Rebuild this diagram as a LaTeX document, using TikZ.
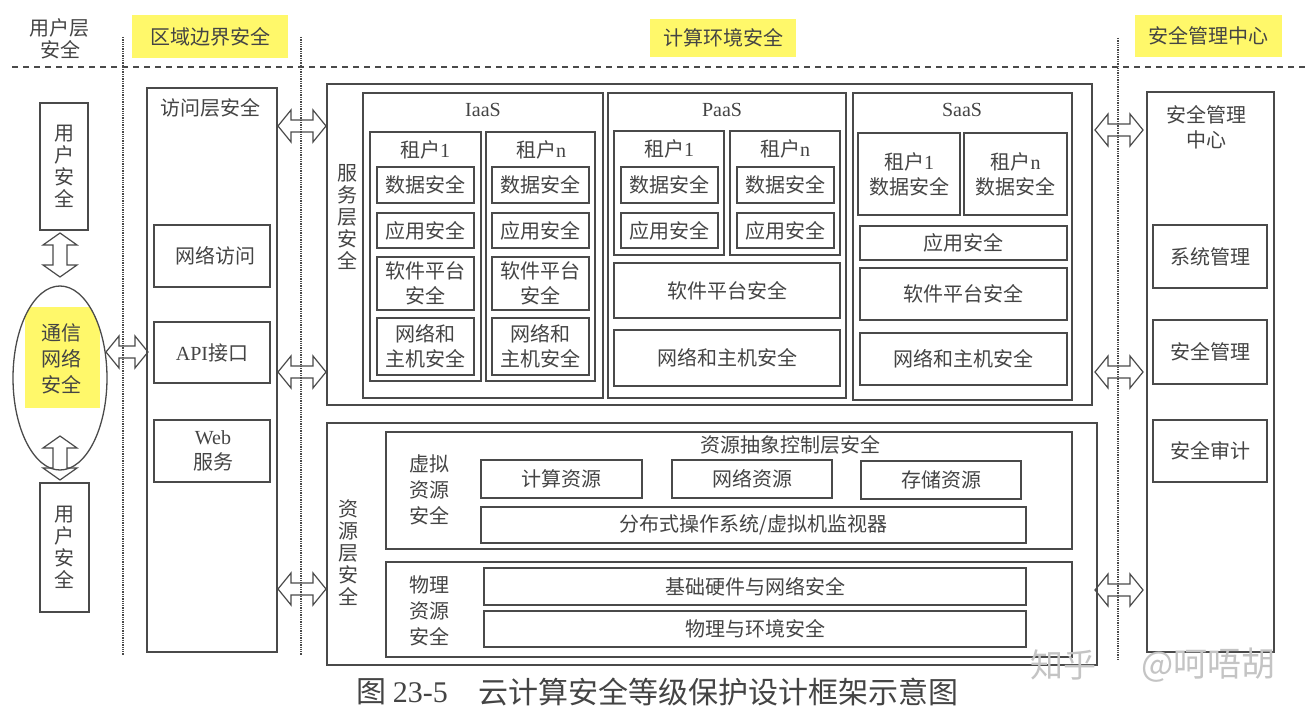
\documentclass[tikz,border=0pt]{standalone}
\usepackage{fontspec}
\setmainfont{Noto Sans CJK SC}
\newfontfamily\lat{Liberation Serif}
\usetikzlibrary{shapes.geometric}
\definecolor{ink}{HTML}{444444}
\definecolor{ln}{HTML}{4A4A4A}
\definecolor{hl}{HTML}{FFF86A}
\definecolor{wm}{HTML}{C4C4C4}
\tikzset{
  box/.style={draw=ln, line width=1.3pt, inner sep=0pt, align=center, text=ink, font=\fontsize{20}{25}\selectfont},
  txt/.style={inner sep=0pt, align=center, text=ink, font=\fontsize{20}{25}\selectfont},
  vtxt/.style={inner sep=0pt, align=center, text=ink, font=\fontsize{20}{22}\selectfont},
  hlbox/.style={fill=hl, inner sep=0pt, text=ink, font=\fontsize{20}{25}\selectfont},
  arr/.style={draw=ln, line width=1.2pt, line join=miter},
  vsep/.style={draw=ln, line width=1.3pt, densely dotted},
  hsep/.style={draw=ln, line width=1.3pt, dash pattern=on 6pt off 5pt},
}
\newcommand\bx[6]{\node[box, minimum width={(#4-#2)*1pt}, minimum height={(#5-#3)*1pt}] (#1) at ({(#2+#4)/2},{(#3+#5)/2}) {#6};}
\newcommand\harr[3]{\draw[arr] (#1,#3) -- ({#1+13},{#3-16}) -- ({#1+13},{#3-6}) -- ({#2-13},{#3-6}) -- ({#2-13},{#3-16}) -- (#2,#3) -- ({#2-13},{#3+16}) -- ({#2-13},{#3+6}) -- ({#1+13},{#3+6}) -- ({#1+13},{#3+16}) -- cycle;}
\newcommand\varr[3]{\draw[arr] (#1,#2) -- ({#1-17},{#2+12}) -- ({#1-7},{#2+12}) -- ({#1-7},{#3-12}) -- ({#1-17},{#3-12}) -- (#1,#3) -- ({#1+17},{#3-12}) -- ({#1+7},{#3-12}) -- ({#1+7},{#2+12}) -- ({#1+17},{#2+12}) -- cycle;}
\begin{document}
\begin{tikzpicture}[x=1pt,y=-1pt]
\useasboundingbox[fill=white] (0,0) rectangle (1310,722);

% headers
\node[txt, font=\fontsize{20}{22}\selectfont] (hu) at (60,39) {用户层\\安全};
\node[hlbox, minimum width=156pt, minimum height=43pt] (hz) at (210,37) {区域边界安全};
\node[hlbox, minimum width=146pt, minimum height=38pt] (hc) at (723,38) {计算环境安全};
\node[hlbox, minimum width=147pt, minimum height=42pt] (hm) at (1208,36) {安全管理中心};

\coordinate (hl1) at (12,67); \coordinate (hl2) at (1305,67);
\draw[hsep] (hl1) -- (hl2);
\coordinate (v1a) at (123,37); \coordinate (v1b) at (123,655);
\coordinate (v2a) at (301,37); \coordinate (v2b) at (301,655);
\coordinate (v3a) at (1118,38); \coordinate (v3b) at (1118,660);
\draw[vsep] (v1a) -- (v1b);
\draw[vsep] (v2a) -- (v2b);
\draw[vsep] (v3a) -- (v3b);

% user layer
\bx{u1}{40}{103}{88}{230}{}
\node[vtxt] at (u1) {用\\户\\安\\全};
\bx{u2}{40}{483}{89}{612}{}
\node[vtxt] at (u2) {用\\户\\安\\全};
\begin{scope}
\clip (60,378) ellipse [x radius=47, y radius=92];
\fill[hl] (25,307) rectangle (100,408);
\end{scope}
\node[draw=ln, line width=1.3pt, ellipse, minimum width=94pt, minimum height=184pt] (comm) at (60,378) {};
\node[txt, font=\fontsize{20}{26}\selectfont] at (61,359) {通信\\网络\\安全};
\varr{60}{233}{277}
\varr{60}{436}{480}

% access layer
\bx{acc}{147}{88}{277}{652}{}
\node[txt] at (210,108) {访问层安全};
\bx{na}{154}{225}{270}{287}{\hspace*{6pt}网络访问}
\bx{api}{154}{322}{270}{383}{{\lat API}接口}
\bx{web}{154}{420}{270}{482}{}
\node[txt] at (213,451) {{\lat Web}\\服务};
\harr{106}{148}{352}
\harr{278}{326}{126}
\harr{278}{326}{372}
\harr{278}{326}{589}

% service layer
\bx{svc}{327}{84}{1092}{405}{}
\node[vtxt] at (347,217) {服\\务\\层\\安\\全};
% IaaS
\bx{iaas}{363}{93}{603}{398}{}
\node[txt] at (483,110) {{\lat IaaS}};
\bx{it1}{370}{132}{481}{381}{}
\node[txt] at (425,150) {租户{\lat 1}};
\bx{it1d}{377}{167}{474}{203}{数据安全}
\bx{it1a}{377}{213}{474}{248}{应用安全}
\bx{it1s}{377}{257}{474}{310}{软件平台\\安全}
\bx{it1n}{377}{318}{474}{375}{网络和\\主机安全}
\bx{itn}{486}{132}{595}{381}{}
\node[txt] at (541,150) {租户{\lat n}};
\bx{itnd}{492}{167}{589}{203}{数据安全}
\bx{itna}{492}{213}{589}{248}{应用安全}
\bx{itns}{492}{257}{589}{310}{软件平台\\安全}
\bx{itnn}{492}{318}{589}{375}{网络和\\主机安全}
% PaaS
\bx{paas}{608}{93}{846}{398}{}
\node[txt] at (722,110) {{\lat PaaS}};
\bx{pt1}{614}{131}{724}{255}{}
\node[txt] at (669,149) {租户{\lat 1}};
\bx{pt1d}{621}{167}{718}{203}{数据安全}
\bx{pt1a}{621}{213}{718}{248}{应用安全}
\bx{ptn}{730}{131}{840}{255}{}
\node[txt] at (785,149) {租户{\lat n}};
\bx{ptnd}{737}{167}{834}{203}{数据安全}
\bx{ptna}{737}{213}{834}{248}{应用安全}
\bx{ps}{614}{263}{840}{318}{软件平台安全}
\bx{pn}{614}{330}{840}{386}{网络和主机安全}
% SaaS
\bx{saas}{853}{93}{1072}{400}{}
\node[txt] at (962,110) {{\lat SaaS}};
\bx{st1}{858}{133}{960}{215}{租户{\lat 1}\\数据安全}
\bx{stn}{964}{133}{1067}{215}{租户{\lat n}\\数据安全}
\bx{sa}{860}{226}{1067}{260}{应用安全}
\bx{ss}{860}{268}{1067}{320}{软件平台安全}
\bx{sn}{860}{333}{1067}{385}{网络和主机安全}

% resource layer
\bx{res}{327}{423}{1097}{665}{}
\node[vtxt] at (348,553) {资\\源\\层\\安\\全};
\bx{vir}{386}{432}{1072}{549}{}
\node[txt] at (790,445) {资源抽象控制层安全};
\node[txt, font=\fontsize{20}{26}\selectfont] at (429,490) {虚拟\\资源\\安全};
\bx{cr}{481}{460}{642}{498}{计算资源}
\bx{nr}{672}{460}{832}{498}{网络资源}
\bx{sr}{861}{461}{1021}{499}{存储资源}
\bx{os}{481}{507}{1026}{543}{分布式操作系统/虚拟机监视器}
\bx{phy}{386}{562}{1072}{657}{}
\node[txt, font=\fontsize{20}{26}\selectfont] at (429,611) {物理\\资源\\安全};
\bx{hw}{484}{568}{1026}{605}{基础硬件与网络安全}
\bx{env}{484}{611}{1026}{647}{物理与环境安全}

% security management center
\bx{smc}{1147}{92}{1274}{652}{}
\node[txt] at (1206,127) {安全管理\\中心};
\bx{sys}{1153}{225}{1267}{288}{系统管理}
\bx{sm}{1153}{320}{1267}{384}{安全管理}
\bx{aud}{1153}{420}{1267}{482}{安全审计}
\harr{1095}{1143}{130}
\harr{1095}{1143}{372}
\harr{1095}{1143}{590}

% caption
\node[txt, anchor=west, font=\fontsize{30}{32}\selectfont] (cap1) at (356,692) {图 {\lat 23-5}};
\node[txt, anchor=west, font=\fontsize{30}{32}\selectfont] (cap2) at (478,692) {云计算安全等级保护设计框架示意图};
\node[inner sep=0pt, anchor=west, text=wm, font=\fontsize{33}{35}\selectfont] (wmk1) at (1030,665) {知乎};
\node[inner sep=0pt, anchor=east, text=wm, font=\fontsize{34}{36}\selectfont] (wmk2) at (1276,665) {@呵唔胡};
\end{tikzpicture}
\end{document}
